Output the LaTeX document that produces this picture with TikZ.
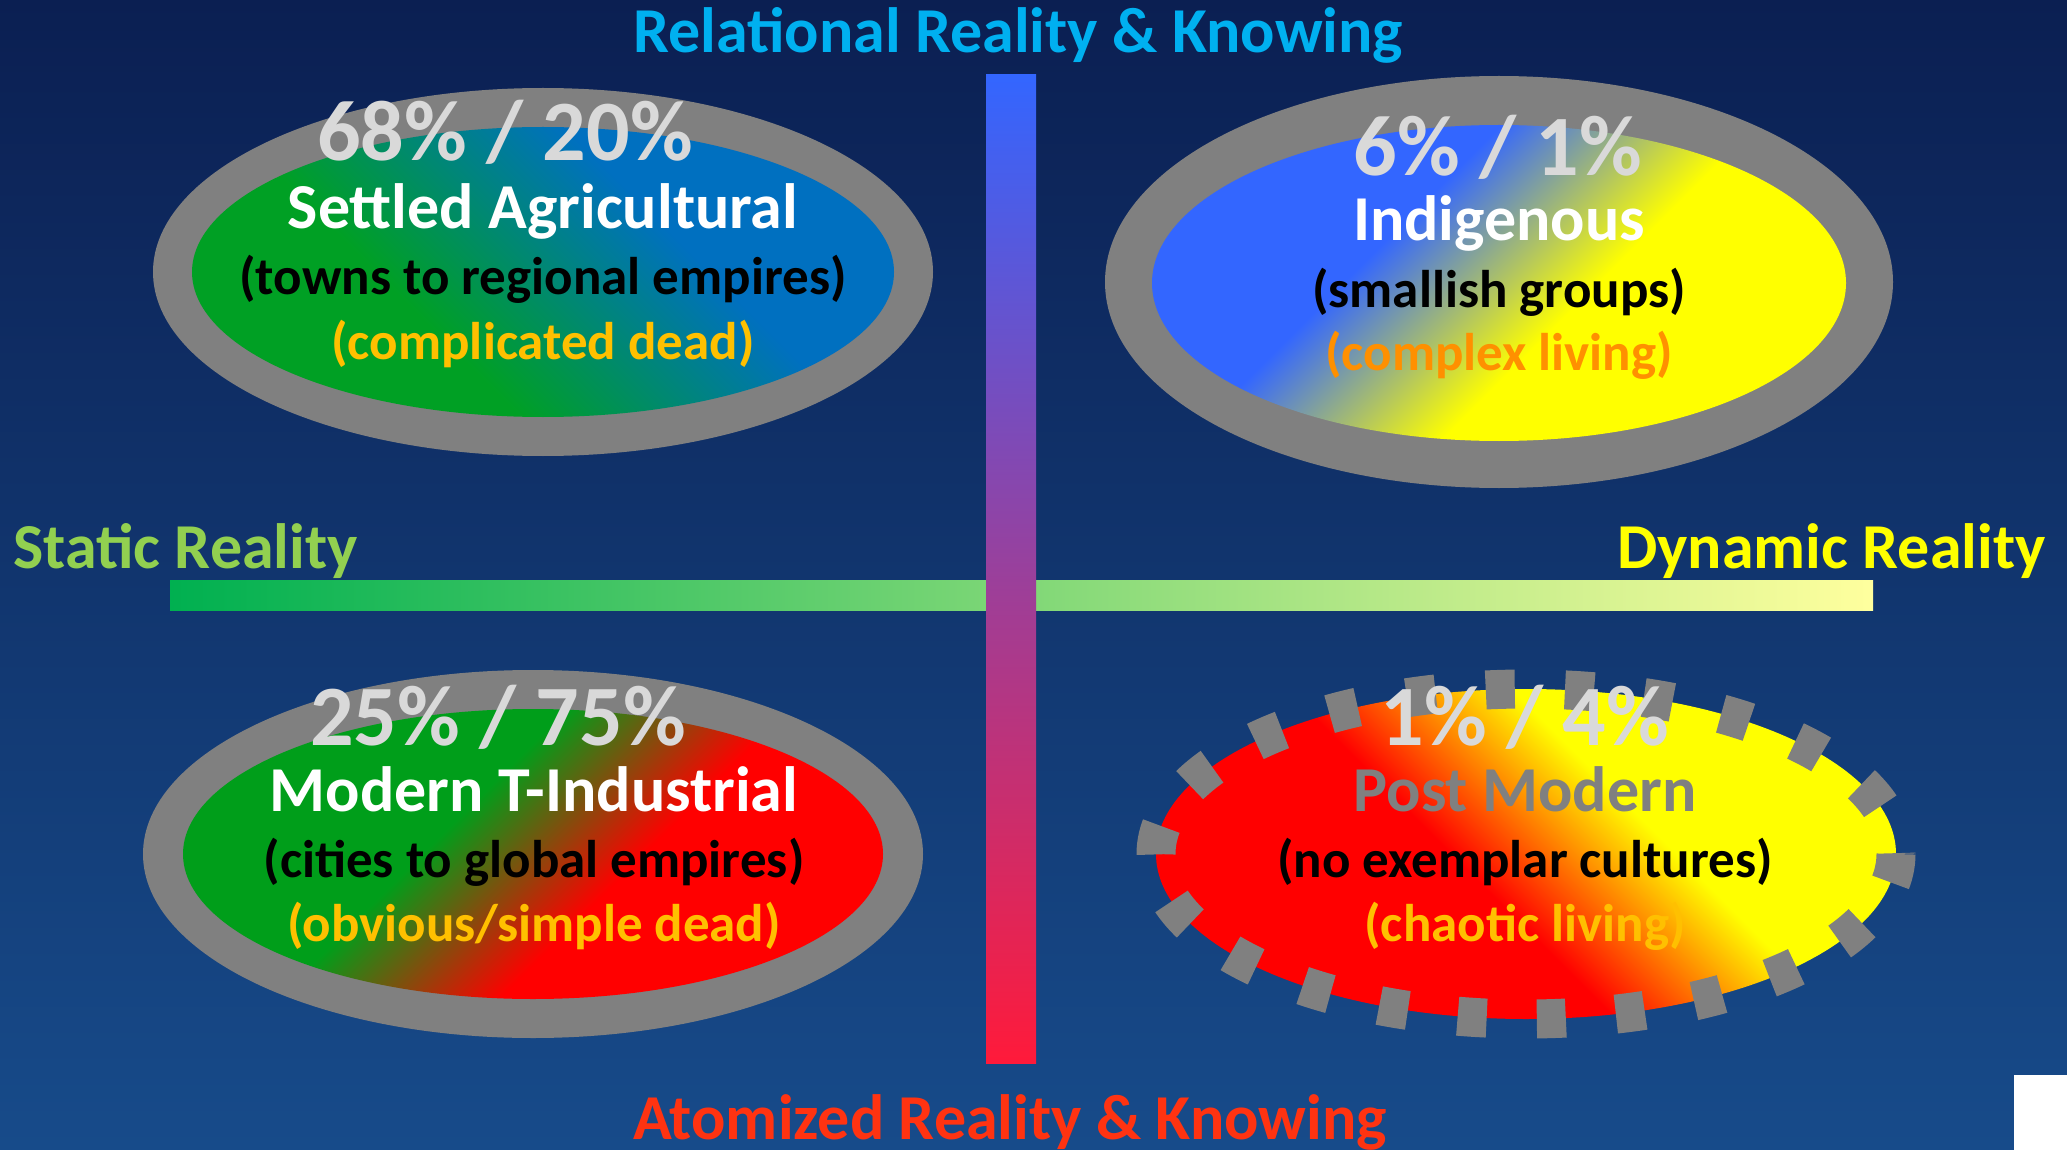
\documentclass[tikz,border=0pt]{standalone}
\usepackage{fontspec}
\setmainfont{Carlito}
\definecolor{bgtop}{HTML}{0B1F52}
\definecolor{bgbot}{HTML}{174B8A}
\definecolor{ringgray}{HTML}{808080}
\definecolor{tlgreen}{HTML}{00A024}
\definecolor{tlblue}{HTML}{0070C0}
\definecolor{trblue}{HTML}{3366FF}
\definecolor{tryellow}{HTML}{FFFF00}
\definecolor{blgreen}{HTML}{009E1A}
\definecolor{blred}{HTML}{FF0000}
\definecolor{pctgray}{HTML}{D9D9D9}
\definecolor{gold}{HTML}{FFC000}
\definecolor{dorange}{HTML}{FF9000}
\definecolor{relblue}{HTML}{00B0F0}
\definecolor{statgreen}{HTML}{92D050}
\definecolor{dynyellow}{HTML}{FFFF00}
\definecolor{atomred}{HTML}{FF3311}
\definecolor{vbtop}{HTML}{3366FF}
\definecolor{vbmid}{HTML}{A452CC}
\definecolor{vbbot}{HTML}{FF1A3A}
\definecolor{hleft}{HTML}{00B050}
\definecolor{hmid}{HTML}{A6DC7A}
\definecolor{hright}{HTML}{FFFF9E}
\definecolor{postgray}{HTML}{808080}
\pgfdeclareverticalshading{tlsh}{100bp}{color(0bp)=(tlgreen); color(38bp)=(tlgreen); color(62bp)=(tlblue); color(100bp)=(tlblue)}
\pgfdeclareverticalshading{trsh}{100bp}{color(0bp)=(tryellow); color(43bp)=(tryellow); color(61bp)=(trblue); color(100bp)=(trblue)}
\pgfdeclareverticalshading{blsh}{100bp}{color(0bp)=(blred); color(42bp)=(blred); color(58bp)=(blgreen); color(100bp)=(blgreen)}
\pgfdeclareverticalshading{brsh}{100bp}{color(0bp)=(blred); color(45bp)=(blred); color(60bp)=(tryellow); color(100bp)=(tryellow)}
\begin{document}
\begin{tikzpicture}[x=0.5pt,y=-0.5pt,
  ax/.style={font=\bfseries\fontsize{32}{38}\selectfont, inner sep=0pt, anchor=base},
  pct/.style={font=\bfseries\fontsize{43}{50}\selectfont, text=pctgray, inner sep=0pt, anchor=base},
  ttl/.style={font=\bfseries\fontsize{32}{38}\selectfont, text=white, inner sep=0pt, anchor=base},
  sub/.style={font=\bfseries\fontsize{26.5}{32}\selectfont, text=black, inner sep=0pt, anchor=base},
  ring/.style={fill=ringgray}]
\useasboundingbox (0,0) rectangle (2067,1150);
\clip (0,0) rectangle (2067,1150);
% background
\shade[top color=bgtop,bottom color=bgbot] (0,0) rectangle (2067,1150);
\fill[white] (2014,1075) rectangle (2067,1150);
% axes
\shade[left color=hleft, middle color=hmid, right color=hright] (170,580) rectangle (1873,610);
\shade[top color=vbtop, middle color=vbmid, bottom color=vbbot] (986,75) rectangle (1036,1063);
% top-left ellipse
\fill[ring] (543,272) ellipse (390 and 184);
\shade[shading=tlsh, shading angle=-45] (543,272) ellipse (351 and 145);
% top-right ellipse
\fill[ring] (1499,282) ellipse (394 and 206);
\shade[shading=trsh, shading angle=45] (1499,283) ellipse (347 and 158);
% bottom-left ellipse
\fill[ring] (533,854) ellipse (390 and 184);
\shade[shading=blsh, shading angle=45] (533,854) ellipse (350 and 145);
% bottom-right ellipse
\shade[shading=brsh, shading angle=-45] (1526,854) ellipse (370 and 165);
\draw[ringgray, line width=19.5pt, dash pattern=on 14.5pt off 25.1pt] (1526,854) ellipse (370 and 165);
% axis labels
\node[ax, text=relblue] (rel) at (1018,53) {Relational Reality \& Knowing};
\node[ax, text=atomred] (atom) at (1010,1139) {Atomized Reality \& Knowing};
\node[ax, text=statgreen, anchor=base west] (static) at (13,568) {Static Reality};
\node[ax, text=dynyellow, anchor=base east] (dynamic) at (2046,568) {Dynamic Reality};
% TL texts
\node[pct] (tlp) at (505,161) {68\% / 20\%};
\node[ttl] (tlt) at (543,229) {Settled Agricultural};
\node[sub] (tls) at (543,295) {(towns to regional empires)};
\node[sub, text=gold] (tlq) at (543,359) {(complicated dead)};
% TR texts
\node[pct] (trp) at (1498,176) {6\% / 1\%};
\node[ttl] (trt) at (1499,241) {Indigenous};
\node[sub] (trs) at (1499,307) {(smallish groups)};
\node[sub, text=dorange] (trq) at (1499,371) {(complex living)};
% BL texts
\node[pct] (blp) at (498,745) {25\% / 75\%};
\node[ttl] (blt) at (534,811) {Modern T-Industrial};
\node[sub] (bls) at (534,877) {(cities to global empires)};
\node[sub, text=gold] (blq) at (534,941) {(obvious/simple dead)};
% BR texts
\node[pct] (brp) at (1525,745) {1\% / 4\%};
\node[ttl, text=postgray] (brt) at (1525,811) {Post Modern};
\node[sub] (brs) at (1525,877) {(no exemplar cultures)};
\node[sub, text=gold] (brq) at (1525,941) {(chaotic living)};
\end{tikzpicture}
\end{document}
